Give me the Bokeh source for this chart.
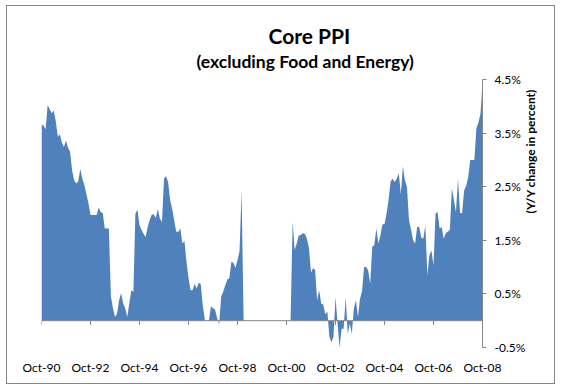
import math
import pandas as pd
from bokeh.plotting import figure
from bokeh.models import Range1d, FixedTicker, Span, Title, PrintfTickFormatter
from bokeh.embed import file_html
from bokeh.resources import INLINE

# ---- data (monthly, Oct-1990 .. Oct-2008, Y/Y % change; None = no data) ----
start_month = "1990-10"
core_ppi = (
    [3.66, 3.64, 3.57, 4.02, 3.95, 3.87, 3.92, 3.72, 3.43, 3.48, 3.32, 3.24]
    + [3.36, 3.22, 3.15, 2.80, 2.62, 2.56, 2.60, 2.83, 2.65, 2.53, 2.36, 2.19]
    + [1.97, 1.97, 1.97, 1.97, 2.11, 2.03, 2.01, 1.72, 1.72, 1.72, 0.45, 0.23]
    + [0.07, 0.13, 0.38, 0.51, 0.32, 0.23, 0.07, 0.32, 0.57, 0.54, 2.00, 2.07]
    + [1.78, 1.69, 1.62, 1.56, 1.75, 1.88, 1.98, 1.98, 1.92, 2.09, 1.90, 1.84]
    + [2.65, 2.70, 2.59, 2.25, 2.09, 1.87, 1.66, 1.66, 1.72, 1.44, 1.49, 1.10]
    + [0.80, 0.57, 0.57, 0.69, 0.60, 0.71, 0.68, 0.28, 0.02, 0.00, 0.00, 0.27]
    + [0.23, 0.21, 0.05, -0.07, 0.45, 0.54, 0.66, 0.77, 0.79, 1.10, 1.08, 0.99]
    + [1.13, 1.30, 2.42]
    + [None] * 24
    + [1.84, 1.32, 1.44, 1.59, 1.60, 1.63, 1.62, 1.53, 1.36, 0.90, 0.98, 0.95]
    + [0.38, 0.57, 0.32, 0.30, 0.12, 0.17, -0.30, -0.40, -0.30, 0.44, -0.05, -0.50]
    + [-0.15, -0.15, 0.44, -0.25, -0.05, -0.25, 0.23, 0.38, 0.07, 0.41, 0.55, 1.00]
    + [1.00, 0.94, 0.69, 1.38, 1.41, 1.72, 1.44, 1.59, 1.80, 1.80, 2.00, 2.25]
    + [2.60, 2.65, 2.59, 2.65, 2.75, 2.36, 2.88, 2.62, 2.50, 1.87, 1.70, 1.50]
    + [1.44, 1.75, 1.75, 1.55, 1.53, 1.78, 0.85, 1.22, 1.31, 1.03, 2.00, 2.03]
    + [1.72, 1.75, 1.53, 1.63, 1.66, 1.69, 2.47, 2.25, 2.03, 2.65, 2.01, 2.01]
    + [2.43, 2.52, 2.68, 3.00, 3.00, 3.00, 3.59, 3.70, 3.86, 4.43]
)
x_tick_labels = ["Oct-90", "Oct-92", "Oct-94", "Oct-96", "Oct-98",
                 "Oct-00", "Oct-02", "Oct-04", "Oct-06", "Oct-08"]
y_ticks = [-0.5, 0.5, 1.5, 2.5, 3.5, 4.5]
title_text = "Core PPI"
subtitle_text = "(excluding Food and Energy)"
y_label = "(Y/Y change in percent)"

# ---- derived ----
months = pd.date_range(start_month, periods=len(core_ppi), freq="MS")
xs = list(range(len(months)))
pos_of = {m.strftime("%b-%y"): i for i, m in enumerate(months)}
tick_pos = [pos_of[t] for t in x_tick_labels]
area_top = [0.0 if v is None else v for v in core_ppi]   # blanks plotted as zero (as Excel does)

FONT = "Lato"
AXIS_GRAY = "#868686"

p = figure(width=549, height=379, output_backend="svg", toolbar_location=None,
           x_range=Range1d(0, len(core_ppi) - 1), y_range=Range1d(y_ticks[0], y_ticks[-1]),
           y_axis_location="right",
           min_border_left=34, min_border_right=74, min_border_top=73, min_border_bottom=38)
p.outline_line_color = None
p.grid.visible = False
p.background_fill_color = "white"
p.border_fill_color = "white"
p.styles = {"border": "1px solid #868686", "margin-left": "6px", "margin-top": "5px"}

p.varea(x=xs, y1=0, y2=area_top, fill_color="#4F81BD", fill_alpha=1.0)

# horizontal axis line at zero with its tick marks
p.add_layout(Span(location=0, dimension="width", line_color=AXIS_GRAY, line_width=1))
p.segment(x0=tick_pos, y0=[0] * len(tick_pos), x1=tick_pos, y1=[-0.08] * len(tick_pos),
          line_color=AXIS_GRAY, line_width=1)

# bottom labels only
bx = p.xaxis[0]
bx.ticker = FixedTicker(ticks=tick_pos)
bx.major_label_overrides = {pos: lab for pos, lab in zip(tick_pos, x_tick_labels)}
bx.axis_line_color = None
bx.major_tick_line_color = None
bx.minor_tick_line_color = None
bx.major_label_standoff = 6
bx.major_label_text_font = FONT
bx.major_label_text_font_size = "12px"
bx.major_label_text_color = "black"

# right value axis
ry = p.yaxis[0]
ry.ticker = FixedTicker(ticks=y_ticks)
ry.formatter = PrintfTickFormatter(format="%.1f%%")
ry.axis_line_color = AXIS_GRAY
ry.major_tick_line_color = AXIS_GRAY
ry.major_tick_out = 4
ry.major_tick_in = 0
ry.minor_tick_line_color = None
ry.major_label_standoff = 8
ry.major_label_text_font = FONT
ry.major_label_text_font_size = "12px"
ry.major_label_text_color = "black"
ry.axis_label = y_label
ry.axis_label_text_font = FONT
ry.axis_label_text_font_size = "12px"
ry.axis_label_text_font_style = "bold"
ry.axis_label_text_color = "black"
ry.axis_label_standoff = 2
try:
    ry.axis_label_orientation = math.pi / 2   # read bottom-to-top
except Exception:
    pass

p.add_layout(Title(text=subtitle_text, align="left", offset=155, text_font=FONT,
                   text_font_size="17.5px", text_font_style="bold", text_color="black",
                   vertical_align="middle", standoff=14), "above")
p.add_layout(Title(text=title_text, align="left", offset=227, text_font=FONT,
                   text_font_size="21px", text_font_style="bold", text_color="black",
                   standoff=-10), "above")

open("out.html", "w").write(file_html(p, INLINE))
